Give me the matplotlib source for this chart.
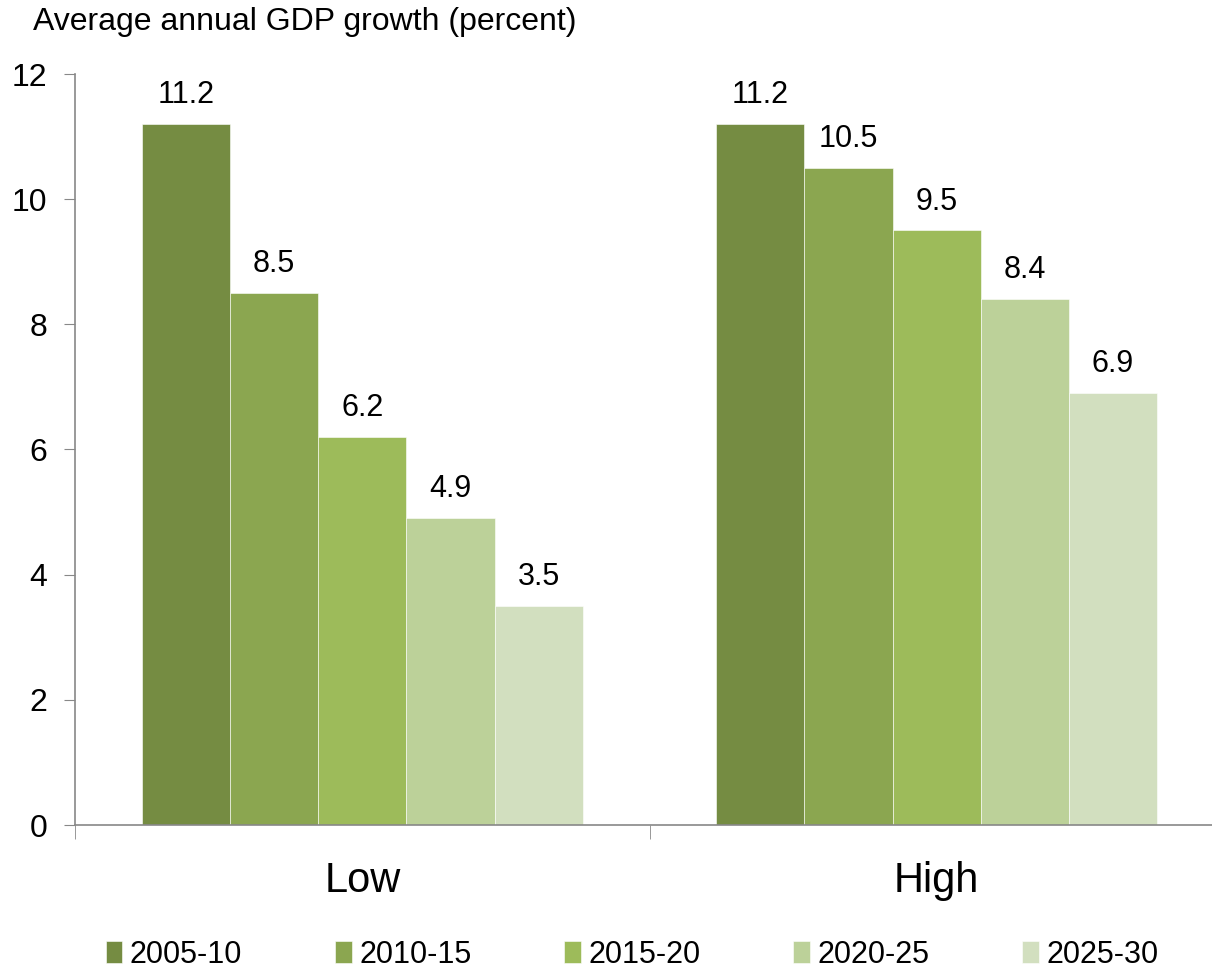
import matplotlib.pyplot as plt
import numpy as np

plt.rcParams['font.family'] = ['Liberation Sans', 'DejaVu Sans']

scenarios = ['Low', 'High']
periods = ['2005-10', '2010-15', '2015-20', '2020-25', '2025-30']
growth_low = [11.2, 8.5, 6.2, 4.9, 3.5]
growth_high = [11.2, 10.5, 9.5, 8.4, 6.9]
colours = ['#758C42', '#8BA650', '#9DBB5A', '#BCD199', '#D2DFBF']

fig = plt.figure(figsize=(12.12, 9.72), dpi=100)
ax = fig.add_axes([75 / 1212, 147 / 972, 1149 / 1212, 751 / 972])

x = np.arange(len(scenarios))
width = 0.1535
offsets = (np.arange(len(periods)) - 2) * width

for i, period in enumerate(periods):
    vals = [growth_low[i], growth_high[i]]
    bars = ax.bar(x + offsets[i], vals, width, color=colours[i],
                  edgecolor='white', linewidth=0.4, label=period)
    for b, v in zip(bars, vals):
        ax.annotate(f'{v:.1f}', (b.get_x() + b.get_width() / 2, v),
                    xytext=(0, 10), textcoords='offset points',
                    ha='center', va='bottom', fontsize=22)

ax.set_xlim(-0.5, 1.5)
ax.set_ylim(0, 12)
ax.set_yticks(range(0, 13, 2))
ax.tick_params(axis='y', labelsize=23, length=8, color='#888888', pad=12)

ax.set_xticks(x)
ax.set_xticklabels(scenarios, fontsize=30)
ax.set_xticks([-0.5, 0.5, 1.5], minor=True)
ax.tick_params(axis='x', which='major', length=0, pad=26)
ax.tick_params(axis='x', which='minor', length=10, color='#888888')

for s in ['top', 'right']:
    ax.spines[s].set_visible(False)
for s in ['left', 'bottom']:
    ax.spines[s].set_color('#888888')
    ax.spines[s].set_linewidth(1.2)

fig.text(33 / 1212, 1 - 22 / 972, 'Average annual GDP growth (percent)',
         fontsize=23, ha='left', va='center')

fig.legend(loc='lower left', bbox_to_anchor=(78 / 1212, -0.026), ncol=5,
           frameon=False, fontsize=22, handlelength=0.55, handleheight=0.7,
           handletextpad=0.25, columnspacing=3.03)

fig.savefig('out.png', dpi=100)
